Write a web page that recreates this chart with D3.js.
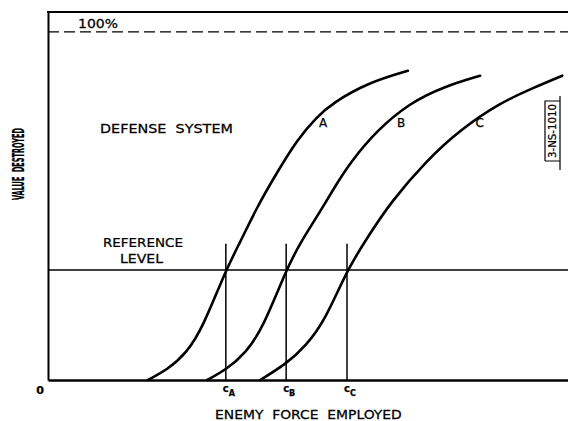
<!DOCTYPE html>
<html>
<head>
<meta charset="utf-8">
<script src="https://cdn.jsdelivr.net/npm/d3@7"></script>
<style>
  html, body { margin: 0; padding: 0; background: #fff; }
  svg { display: block; }
  text { font-family: "DejaVu Sans", sans-serif; fill: #000; stroke: #000; stroke-width: 0.25px; }
</style>
</head>
<body>
<svg id="chart" width="568" height="421"></svg>
<script>
// ---- data (x: enemy force employed, y: value destroyed, %) ----
const curveNames = ["A", "B", "C"];
const curveA = [[19.2,0],[22.9,2.9],[26.7,7.8],[29.8,15.2],[34.2,31.6],[36.9,39.4],[40.2,49.7],[44.0,59.5],[47.9,69.0],[51.7,75.6],[54.8,79.6],[61.4,85.3],[69.2,88.8]];
const curveB = [[30.6,0],[34.2,2.9],[38.1,7.8],[41.4,15.2],[45.8,31.6],[48.5,39.4],[51.7,46.8],[55.6,56.6],[58.1,62.4],[63.3,71.8],[69.6,79.6],[76.0,84.2],[83.1,87.4]];
const curveC = [[40.8,0],[45.8,4.6],[49.6,9.8],[53.3,17.2],[57.5,31.6],[61.5,41.1],[65.8,50.9],[72.9,63.2],[79.2,71.8],[86.9,79.6],[93.3,83.9],[98.9,87.4]];
const referenceLevel = 31.6;
const fullLevel = 100;
const criticalForces = [34.2, 45.8, 57.5];
const criticalLabels = ["A", "B", "C"];
const criticalLineTop = 39.1;
const curveLabelPos = [[52.9, 72.7], [67.9, 72.7], [83.0, 72.7]];

// ---- scales ----
const x = d3.scaleLinear().domain([0, 100]).range([48, 568]);
const y = d3.scaleLinear().domain([0, 105.7]).range([380, 12]);

const svg = d3.select("#chart");

// helper: place text at (tx,ty) with rotation and squeeze it to a target length
function fitText(txt, tx, ty, rot, target, size, weight) {
  const t = svg.append("text")
    .attr("font-size", size).attr("font-weight", weight || "normal")
    .attr("xml:space", "preserve")
    .style("white-space", "pre")
    .text(txt);
  const w = t.node().getComputedTextLength();
  const s = target / w;
  t.attr("transform", `translate(${tx},${ty}) rotate(${rot}) scale(${s},1)`);
  return t;
}

// frame: left axis, top line, bottom axis
const yAxis = d3.axisLeft(y).tickValues([]).tickSizeOuter(0);
const gy = svg.append("g").attr("transform", `translate(${x(0)},0)`).call(yAxis);
gy.select(".domain").attr("stroke", "#000").attr("stroke-width", 2);

const xAxis = d3.axisBottom(x).tickValues([]).tickSizeOuter(0);
const gx = svg.append("g").attr("transform", `translate(0,${y(0)})`).call(xAxis);
gx.select(".domain").attr("stroke", "#000").attr("stroke-width", 2.4);

svg.append("line")
  .attr("x1", x(0) - 1).attr("x2", x(100))
  .attr("y1", y(105.7)).attr("y2", y(105.7))
  .attr("stroke", "#000").attr("stroke-width", 1.8);

// 100% dashed line
svg.append("line")
  .attr("x1", x(0)).attr("x2", x(100))
  .attr("y1", y(fullLevel)).attr("y2", y(fullLevel))
  .attr("stroke", "#000").attr("stroke-width", 1.4)
  .attr("stroke-dasharray", "11,5");

// reference level line
svg.append("line")
  .attr("x1", x(0)).attr("x2", x(100))
  .attr("y1", y(referenceLevel)).attr("y2", y(referenceLevel))
  .attr("stroke", "#000").attr("stroke-width", 1.5);

// critical force verticals
svg.selectAll(".crit").data(criticalForces).join("line")
  .attr("class", "crit")
  .attr("x1", d => x(d)).attr("x2", d => x(d))
  .attr("y1", y(criticalLineTop)).attr("y2", y(0))
  .attr("stroke", "#000").attr("stroke-width", 1.5);

// curves
const line = d3.line().x(d => x(d[0])).y(d => y(d[1])).curve(d3.curveBasis);
svg.selectAll(".curve").data([curveA, curveB, curveC]).join("path")
  .attr("class", "curve")
  .attr("d", line)
  .attr("fill", "none").attr("stroke", "#000").attr("stroke-width", 2.6)
  .attr("stroke-linecap", "round");

// curve labels
svg.selectAll(".clabel").data(curveNames).join("text")
  .attr("class", "clabel")
  .attr("x", (d, i) => x(curveLabelPos[i][0]))
  .attr("y", (d, i) => y(curveLabelPos[i][1]))
  .attr("text-anchor", "middle")
  .attr("font-size", 12)
  .text(d => d);

// critical labels c_A, c_B, c_C
const cl = svg.selectAll(".critlabel").data(criticalForces).join("text")
  .attr("class", "critlabel")
  .attr("x", d => x(d) - 3)
  .attr("y", 392)
  .attr("font-size", 10).attr("font-weight", "bold");
cl.append("tspan").text("c");
cl.append("tspan").attr("dy", 4).attr("font-size", 8).text((d, i) => criticalLabels[i]);

// texts
fitText("100%", 78, 28, 0, 40, 12);
fitText("DEFENSE  SYSTEM", 100, 133, 0, 133, 12);
fitText("REFERENCE", 103, 247, 0, 80, 12);
fitText("LEVEL", 120, 263, 0, 43, 12);
fitText("ENEMY  FORCE  EMPLOYED", 215, 419, 0, 187, 12);
fitText("VALUE  DESTROYED", 24, 200, -90, 72, 15, "bold");

svg.append("text").attr("x", 40).attr("y", 394)
  .attr("text-anchor", "middle").attr("font-size", 11).attr("font-weight", "bold")
  .text("0");

// drawing number box
svg.append("path")
  .attr("d", "M545,161 V101 H560 M560,96 V170 M545,161 H560")
  .attr("fill", "none").attr("stroke", "#000").attr("stroke-width", 1.2);
fitText("3-NS-1010", 556, 158, -90, 54, 10);
</script>
</body>
</html>
